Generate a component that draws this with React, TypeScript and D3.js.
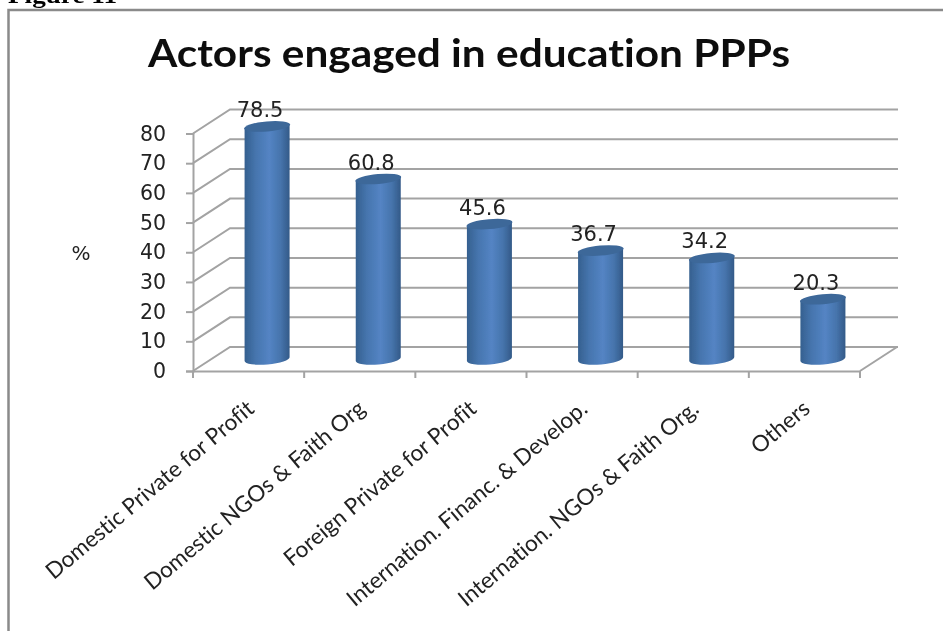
import React, { useEffect, useRef } from "react";
import * as d3 from "d3";

const categories = [
  "Domestic Private for Profit",
  "Domestic NGOs & Faith Org",
  "Foreign Private for Profit",
  "Internation. Financ. & Develop.",
  "Internation. NGOs & Faith Org.",
  "Others",
];
const values = [78.5, 60.8, 45.6, 36.7, 34.2, 20.3];
const yTicks = [0, 10, 20, 30, 40, 50, 60, 70, 80];

const W = 944, H = 631;
const depthX = 37, depthY = -24;
const barW = 45, capRy = 5.5;
const gridColor = "#a3a3a3";
const numFont = "'DejaVu Sans', sans-serif";
const labelFont = "Lato, sans-serif";

const x = d3.scaleBand<string>().domain(categories).range([193, 860]);
const y = d3.scaleLinear().domain([0, 80]).range([371, 133.5]);

export default function App() {
  const axisLeft = useRef<SVGGElement>(null);
  const axisBottom = useRef<SVGGElement>(null);

  useEffect(() => {
    const l = d3.select(axisLeft.current!)
      .attr("transform", "translate(193,0)")
      .call(d3.axisLeft(y).tickValues(yTicks).tickSize(7).tickPadding(20));
    l.select(".domain").attr("stroke", gridColor).attr("stroke-width", 2);
    l.selectAll(".tick line").attr("stroke", gridColor).attr("stroke-width", 2);
    l.selectAll(".tick text")
      .attr("fill", "#222")
      .style("font-family", numFont)
      .style("font-size", "20.5px");

    const b = d3.select(axisBottom.current!)
      .attr("transform", "translate(0,371)")
      .call(d3.axisBottom(x).tickSize(7).tickSizeOuter(0).tickFormat(() => ""));
    b.select(".domain").attr("stroke", gridColor).attr("stroke-width", 2);
    // ticks sit between the categories, not on their centres
    b.selectAll(".tick").remove();
    b.selectAll(".sep")
      .data([0, ...categories.map((_, i) => i + 1)])
      .join("line")
      .attr("class", "sep")
      .attr("x1", i => x.range()[0] + i * x.step())
      .attr("x2", i => x.range()[0] + i * x.step())
      .attr("y1", 0)
      .attr("y2", 7)
      .attr("stroke", gridColor)
      .attr("stroke-width", 2);

    // category labels, rotated
    b.selectAll(".cat")
      .data(categories)
      .join("text")
      .attr("class", "cat")
      .attr("text-anchor", "end")
      .attr("transform", d => `translate(${x(d)! + x.bandwidth() / 2 + 7},40) rotate(-40)`)
      .attr("fill", "#222")
      .style("font-family", labelFont)
      .style("font-variant-ligatures", "none")
      .style("font-size", "22.5px")
      .text(d => d);
  }, []);

  const x0 = x.range()[0], x1 = x.range()[1];

  return (
    <svg width={W} height={H} style={{ position: "absolute", left: 0, top: 0, background: "#fff" }}>
      <defs>
        <linearGradient id="cyl" x1="0" x2="1" y1="0" y2="0">
          <stop offset="0" stopColor="#35608f" />
          <stop offset="0.25" stopColor="#4675ae" />
          <stop offset="0.55" stopColor="#5484c4" />
          <stop offset="0.8" stopColor="#4674ac" />
          <stop offset="1" stopColor="#335a88" />
        </linearGradient>
        <filter id="soft"><feGaussianBlur stdDeviation="0.45" /></filter>
      </defs>
      <g filter="url(#soft)">
        <text x={8} y={3} fontFamily="'Liberation Serif', serif" fontWeight="bold" fontSize={24}
          textLength={109} lengthAdjust="spacingAndGlyphs">Figure 11</text>
        <path d={`M943,10H8.5V${H}`} fill="none" stroke="#8a8a8a" strokeWidth={2.5} />

        <text x={469} y={67} textAnchor="middle" fontFamily={labelFont} fontWeight="bold" fontSize={39}
          textLength={642} lengthAdjust="spacingAndGlyphs" fill="#111"
          style={{ fontVariantLigatures: "none" }}>Actors engaged in education PPPs</text>
        <text x={81} y={260} textAnchor="middle" fontFamily={numFont} fontSize={20} fill="#222">%</text>

        {yTicks.map(t => (
          <path key={t} fill="none" stroke={gridColor} strokeWidth={2}
            d={`M${x0},${y(t)}L${x0 + depthX},${y(t) + depthY}H${x1 + depthX + 1}`} />
        ))}
        <path fill="none" stroke={gridColor} strokeWidth={2}
          d={`M${x1},${y(0)}L${x1 + depthX},${y(0) + depthY}`} />

        <g ref={axisLeft} />
        <g ref={axisBottom} />

        {categories.map((c, i) => {
          const cx = x(c)! + x.bandwidth() / 2 + depthX / 2;
          const bottom = y(0) + depthY / 2;
          const top = y(values[i]) + depthY / 2;
          const rx = barW / 2;
          const tilt = 2;
          return (
            <g key={c}>
              <path fill="url(#cyl)"
                d={`M${cx - rx},${top + tilt}L${cx - rx},${bottom + tilt}A${rx},${capRy} -5 0 0 ${cx + rx},${bottom - tilt}L${cx + rx},${top - tilt}Z`} />
              <ellipse cx={cx} cy={top + 0.5} rx={rx + 0.5} ry={capRy - 0.5} fill="#3c6799"
                transform={`rotate(-5 ${cx} ${top})`} />
              <text x={cx - 7} y={top - 9} textAnchor="middle" fontFamily={numFont} fontSize={21} fill="#222">
                {values[i]}
              </text>
            </g>
          );
        })}
      </g>
    </svg>
  );
}
